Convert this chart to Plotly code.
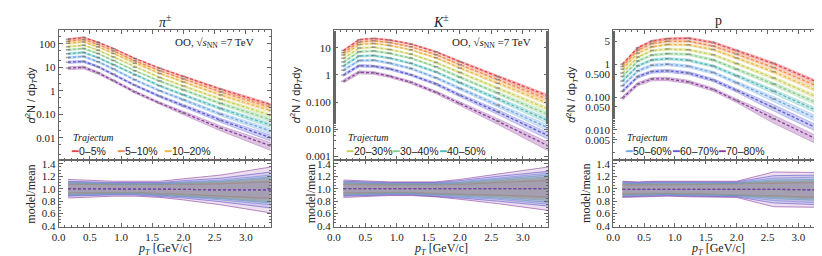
import plotly.graph_objects as go

# ---------------- data ----------------
PT = [0.15, 0.4, 0.63, 0.88, 1.22, 1.62, 2.0, 2.6, 3.4]
CENTRALITIES = ["0–5%", "5–10%", "10–20%", "20–30%", "30–40%", "40–50%", "50–60%", "60–70%", "70–80%"]
COLORS = ["#e0474c", "#f08a4b", "#e8b84a", "#c9d05a", "#86cc8a", "#52b8b8", "#6ea6e6", "#5a5ad8", "#8c3c9c"]
SPECIES = ["<i>π</i><sup>±</sup>", "<i>K</i><sup>±</sup>", "p"]

PION = [
    [158, 186, 117, 62, 24, 9.1, 4.1, 1.17, 0.26],
    [129, 151, 95, 50, 19, 7.2, 3.2, 0.90, 0.20],
    [105, 120, 75, 39, 14.8, 5.5, 2.4, 0.66, 0.145],
    [76, 87, 54, 27.5, 10.2, 3.7, 1.62, 0.44, 0.091],
    [56, 63, 39, 19.5, 7.2, 2.6, 1.1, 0.29, 0.059],
    [38, 43, 26, 13, 4.7, 1.64, 0.68, 0.176, 0.035],
    [26, 29, 17.4, 8.5, 2.95, 1.02, 0.42, 0.102, 0.0195],
    [16.6, 17.8, 10.7, 5.1, 1.74, 0.59, 0.23, 0.056, 0.0102],
    [9.3, 10, 5.9, 2.75, 0.91, 0.30, 0.115, 0.026, 0.0046],
]
KAON = [
    [7.9, 20, 22, 19.5, 13.8, 7.1, 3.1, 0.89, 0.17],
    [6.6, 16.4, 18.2, 15.7, 11, 5.6, 2.4, 0.68, 0.126],
    [5.4, 13.2, 14.5, 12.3, 8.5, 4.3, 1.82, 0.50, 0.091],
    [4.1, 9.8, 10.5, 8.7, 5.9, 2.9, 1.23, 0.33, 0.056],
    [3.0, 7.2, 7.6, 6.3, 4.2, 2.0, 0.83, 0.22, 0.035],
    [2.16, 5.0, 5.2, 4.2, 2.7, 1.29, 0.52, 0.135, 0.021],
    [1.51, 3.4, 3.5, 2.75, 1.74, 0.79, 0.32, 0.079, 0.0115],
    [1.0, 2.2, 2.1, 1.7, 1.02, 0.47, 0.18, 0.044, 0.0059],
    [0.59, 1.26, 1.2, 0.91, 0.54, 0.23, 0.089, 0.020, 0.0025],
]
PROTON = [
    [1.0, 3.2, 5.1, 6.0, 6.2, 4.6, 2.6, 1.05, 0.24],
    [0.85, 2.7, 4.3, 5.0, 5.0, 3.6, 2.05, 0.79, 0.18],
    [0.70, 2.2, 3.4, 4.0, 3.9, 2.8, 1.55, 0.59, 0.132],
    [0.54, 1.66, 2.6, 2.9, 2.75, 1.95, 1.05, 0.38, 0.083],
    [0.42, 1.26, 1.9, 2.1, 2.0, 1.35, 0.71, 0.25, 0.054],
    [0.31, 0.90, 1.35, 1.48, 1.33, 0.88, 0.45, 0.151, 0.032],
    [0.22, 0.63, 0.93, 1.0, 0.87, 0.56, 0.275, 0.088, 0.0178],
    [0.15, 0.42, 0.60, 0.63, 0.54, 0.33, 0.16, 0.048, 0.0093],
    [0.093, 0.25, 0.355, 0.36, 0.29, 0.17, 0.078, 0.022, 0.0042],
]

# relative model uncertainty (half width of band)
ERR_PI = [
    [0.07, 0.07, 0.06, 0.06, 0.06, 0.07, 0.08, 0.10, 0.13],
    [0.07, 0.07, 0.06, 0.06, 0.06, 0.07, 0.08, 0.10, 0.14],
    [0.08, 0.07, 0.07, 0.06, 0.07, 0.07, 0.09, 0.11, 0.15],
    [0.08, 0.08, 0.07, 0.07, 0.07, 0.08, 0.09, 0.12, 0.17],
    [0.09, 0.08, 0.08, 0.07, 0.07, 0.08, 0.10, 0.13, 0.19],
    [0.10, 0.09, 0.08, 0.08, 0.08, 0.09, 0.11, 0.14, 0.21],
    [0.11, 0.10, 0.09, 0.09, 0.09, 0.10, 0.12, 0.16, 0.24],
    [0.12, 0.11, 0.10, 0.10, 0.10, 0.11, 0.14, 0.19, 0.29],
    [0.15, 0.14, 0.13, 0.12, 0.12, 0.13, 0.17, 0.24, 0.37],
]
ERR_K = [
    [0.07, 0.06, 0.06, 0.06, 0.06, 0.07, 0.08, 0.10, 0.13],
    [0.07, 0.07, 0.06, 0.06, 0.06, 0.07, 0.08, 0.10, 0.14],
    [0.08, 0.07, 0.07, 0.06, 0.07, 0.07, 0.09, 0.11, 0.15],
    [0.08, 0.08, 0.07, 0.07, 0.07, 0.08, 0.09, 0.12, 0.17],
    [0.09, 0.08, 0.08, 0.07, 0.07, 0.08, 0.10, 0.13, 0.19],
    [0.10, 0.09, 0.08, 0.08, 0.08, 0.09, 0.11, 0.15, 0.22],
    [0.11, 0.10, 0.09, 0.09, 0.09, 0.10, 0.12, 0.17, 0.25],
    [0.12, 0.11, 0.10, 0.10, 0.10, 0.11, 0.14, 0.20, 0.28],
    [0.14, 0.13, 0.12, 0.11, 0.11, 0.12, 0.16, 0.24, 0.35],
]
ERR_P = [
    [0.07, 0.07, 0.07, 0.07, 0.07, 0.08, 0.09, 0.10, 0.12],
    [0.07, 0.07, 0.07, 0.07, 0.07, 0.08, 0.09, 0.10, 0.12],
    [0.08, 0.08, 0.07, 0.07, 0.07, 0.08, 0.09, 0.11, 0.13],
    [0.08, 0.08, 0.08, 0.08, 0.08, 0.08, 0.09, 0.12, 0.14],
    [0.09, 0.09, 0.08, 0.08, 0.08, 0.09, 0.10, 0.13, 0.15],
    [0.10, 0.09, 0.09, 0.09, 0.09, 0.09, 0.10, 0.15, 0.17],
    [0.11, 0.10, 0.10, 0.10, 0.10, 0.10, 0.11, 0.18, 0.21],
    [0.12, 0.11, 0.11, 0.11, 0.11, 0.11, 0.12, 0.22, 0.24],
    [0.13, 0.12, 0.12, 0.12, 0.12, 0.12, 0.13, 0.28, 0.28],
]
RATIO_PI = [1.0, 1.0, 1.0, 1.0, 1.0, 0.99, 0.99, 0.98, 0.98]
RATIO_K = [1.0, 1.0, 1.0, 1.0, 1.0, 0.99, 0.99, 1.0, 1.0]
RATIO_P = [0.99, 0.99, 1.0, 1.0, 0.99, 0.99, 0.99, 0.99, 0.98]

Y_TICKS = [
    ([0.01, 0.1, 1, 10, 100], ["0.01", "0.10", "1", "10", "100"]),
    ([0.001, 0.01, 0.1, 1, 10], ["0.001", "0.010", "0.100", "1", "10"]),
    ([0.005, 0.01, 0.05, 0.1, 0.5, 1, 5], ["0.005", "0.010", "0.050", "0.100", "0.500", "1", "5"]),
]
Y_LOG_RANGE = [[-2.93, 2.57], [-3.12, 1.64], [-2.91, 1.03]]

# ---------------- layout helpers ----------------
W, H = 822, 256
X_DOM = [(44, 258), (321.7, 537.7), (603.3, 815)]
Y_TOP = (21, 154)
Y_BOT = (154, 223)
YTITLE_TOP_X = [16, 283, 561]
YTITLE_BOT_X = [16, 298, 576]

SERIF = "Liberation Serif"
SANS = "Liberation Sans"
FRAME = "#666666"


def rgba(hexc, a):
    h = hexc.lstrip("#")
    return "rgba(%d,%d,%d,%.2f)" % (int(h[0:2], 16), int(h[2:4], 16), int(h[4:6], 16), a)


def xd(px):
    return px / W


def yd(px):
    return 1 - px / H


fig = go.Figure()
spectra = [PION, KAON, PROTON]
errors = [ERR_PI, ERR_K, ERR_P]
ratios = [RATIO_PI, RATIO_K, RATIO_P]

axis_common = dict(showline=True, linecolor=FRAME, linewidth=1, mirror="allticks",
                   ticks="inside", ticklen=4, tickcolor=FRAME, showgrid=False, zeroline=False,
                   tickfont=dict(family=SERIF, size=11, color="#222"))

layout = dict(width=W, height=H, margin=dict(l=0, r=0, t=0, b=0),
              paper_bgcolor="white", plot_bgcolor="white", showlegend=False,
              font=dict(family=SERIF, size=11, color="#222"))
annotations = []

for p in range(3):
    it = 2 * p + 1
    ib = 2 * p + 2
    xt, yt = "x%d" % it, "y%d" % it
    xb, yb = "x%d" % ib, "y%d" % ib
    data, err, rat = spectra[p], errors[p], ratios[p]

    # top panel: spectra with bands
    for c in range(len(CENTRALITIES)):
        col = COLORS[c]
        vals = data[c]
        e = err[c]
        up = [v * (1 + ee) for v, ee in zip(vals, e)]
        lo = [v * (1 - ee) for v, ee in zip(vals, e)]
        fig.add_trace(go.Scatter(x=PT, y=up, mode="lines", line=dict(width=0.6, color=rgba(col, 0.5)),
                                 xaxis=xt, yaxis=yt, hoverinfo="skip"))
        fig.add_trace(go.Scatter(x=PT, y=lo, mode="lines", line=dict(width=0.6, color=rgba(col, 0.5)),
                                 fill="tonexty", fillcolor=rgba(col, 0.3),
                                 xaxis=xt, yaxis=yt, hoverinfo="skip"))
        fig.add_trace(go.Scatter(x=PT, y=vals, mode="lines+markers",
                                 line=dict(width=1.3, color=col, dash="3px,2px"),
                                 marker=dict(symbol="line-ew", size=3,
                                             line=dict(width=1.5, color="rgba(120,120,120,0.7)")),
                                 xaxis=xt, yaxis=yt, name=CENTRALITIES[c]))

    # bottom panel: ratio bands
    for c in range(len(CENTRALITIES)):
        col = COLORS[c]
        e = err[c]
        up = [r + ee for r, ee in zip(rat, e)]
        lo = [r - ee for r, ee in zip(rat, e)]
        fig.add_trace(go.Scatter(x=PT, y=up, mode="lines", line=dict(width=0.8, color=rgba(col, 0.75)),
                                 xaxis=xb, yaxis=yb, hoverinfo="skip"))
        fig.add_trace(go.Scatter(x=PT, y=lo, mode="lines", line=dict(width=0.8, color=rgba(col, 0.75)),
                                 fill="tonexty", fillcolor=rgba(col, 0.16),
                                 xaxis=xb, yaxis=yb, hoverinfo="skip"))
    for c in range(len(CENTRALITIES)):
        fig.add_trace(go.Scatter(x=PT, y=rat, mode="lines",
                                 line=dict(width=1.3, color=COLORS[c], dash="3px,2px"),
                                 xaxis=xb, yaxis=yb, hoverinfo="skip"))

    xdom = [xd(X_DOM[p][0]), xd(X_DOM[p][1])]
    tv, tt = Y_TICKS[p]
    layout["xaxis%d" % it] = dict(axis_common, domain=xdom, anchor=yt, range=[0, 3.4], dtick=0.5,
                                  showticklabels=False, matches=xb,
                                  minor=dict(ticks="inside", ticklen=2, dtick=0.1, tickcolor=FRAME))
    layout["yaxis%d" % it] = dict(axis_common, domain=[yd(Y_TOP[1]), yd(Y_TOP[0])], anchor=xt,
                                  type="log", range=Y_LOG_RANGE[p], tickvals=tv, ticktext=tt,
                                  minor=dict(ticks="inside", ticklen=2, tickcolor=FRAME))
    layout["xaxis%d" % ib] = dict(axis_common, domain=xdom, anchor=yb, range=[0, 3.4], dtick=0.5,
                                  tickformat=".1f",
                                  minor=dict(ticks="inside", ticklen=2, dtick=0.1, tickcolor=FRAME))
    layout["yaxis%d" % ib] = dict(axis_common, domain=[yd(Y_BOT[1]), yd(Y_BOT[0])], anchor=xb,
                                  range=[0.385, 1.466], dtick=0.2, tickformat=".1f",
                                  minor=dict(ticks="inside", ticklen=2, dtick=0.05, tickcolor=FRAME))

    cx = (X_DOM[p][0] + X_DOM[p][1]) / 2
    # panel title
    annotations.append(dict(text=SPECIES[p], x=xd(cx), y=yd(11), xref="paper", yref="paper",
                            showarrow=False, font=dict(family=SERIF, size=14), xanchor="center", yanchor="middle"))
    # axis titles
    annotations.append(dict(text="<i>p<sub>T</sub></i> [GeV/c]", x=xd(cx), y=yd(246), xref="paper", yref="paper",
                            showarrow=False, font=dict(family=SERIF, size=12), xanchor="center", yanchor="middle"))
    annotations.append(dict(text="<i>d</i><sup>2</sup>N / dp<sub><i>T</i></sub>dy", x=xd(YTITLE_TOP_X[p]),
                            y=yd(87), xref="paper", yref="paper", textangle=-90,
                            showarrow=False, font=dict(family=SANS, size=11), xanchor="center", yanchor="middle"))
    annotations.append(dict(text="model/mean", x=xd(YTITLE_BOT_X[p]), y=yd(189), xref="paper", yref="paper",
                            textangle=-90, showarrow=False, font=dict(family=SERIF, size=12),
                            xanchor="center", yanchor="middle"))
    # Trajectum label
    annotations.append(dict(text="<i>Trajectum</i>", x=xd(X_DOM[p][0] + 12), y=yd(131), xref="paper", yref="paper",
                            showarrow=False, font=dict(family=SERIF, size=10), xanchor="left", yanchor="middle"))
    # legend entries (three per panel)
    for k in range(3):
        c = 3 * p + k
        annotations.append(dict(
            text="<span style='color:%s'>━</span>%s" % (COLORS[c], CENTRALITIES[c]),
            x=xd(X_DOM[p][0] + 10 + 47 * k), y=yd(145), xref="paper", yref="paper",
            showarrow=False, font=dict(family=SANS, size=10.5, color="#222"),
            xanchor="left", yanchor="middle"))

# collision system label on first two panels
for p in range(2):
    annotations.append(dict(text="OO, √<i>s</i><sub>NN</sub> =7 TeV",
                            x=xd(X_DOM[p][1] - 15), y=yd(34), xref="paper", yref="paper",
                            showarrow=False, font=dict(family=SERIF, size=11), xanchor="right", yanchor="middle"))

layout["annotations"] = annotations
fig.update_layout(**layout)
fig.write_html("out.html")
